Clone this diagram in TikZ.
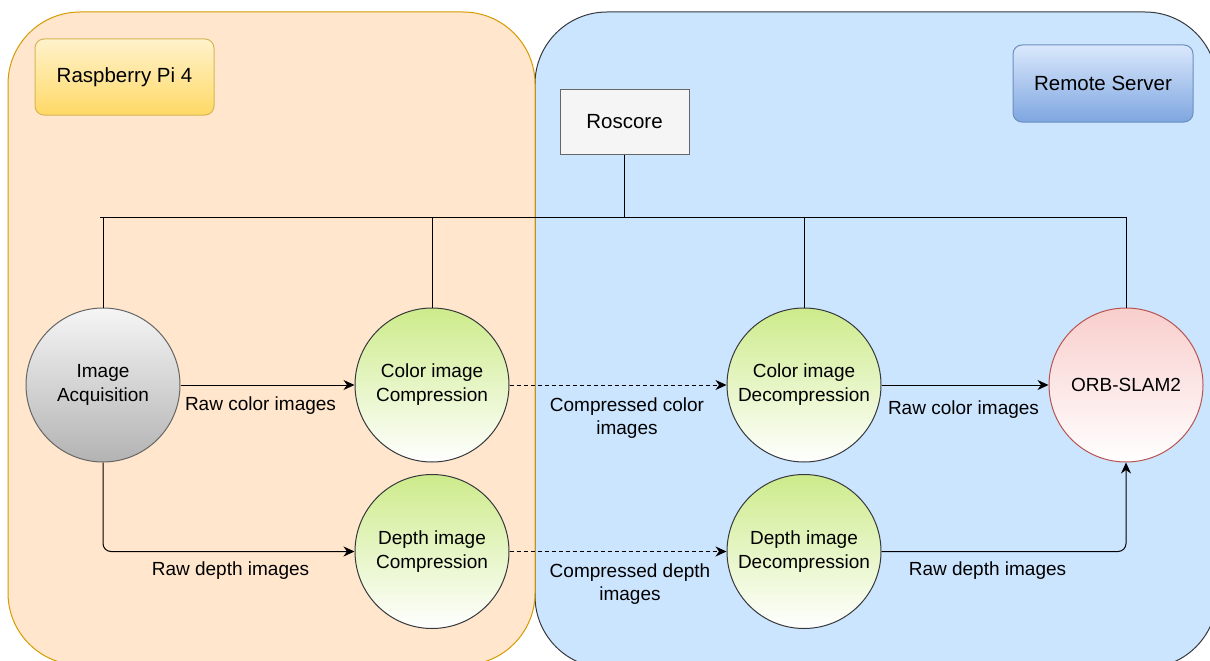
\documentclass[tikz,border=0pt]{standalone}
\usepackage{fontspec}
\setmainfont{Liberation Sans}
\usetikzlibrary{arrows.meta}
\definecolor{piFill}{HTML}{FFE6CC}
\definecolor{piLine}{HTML}{D79B00}
\definecolor{srvFill}{HTML}{CCE5FF}
\definecolor{srvLine}{HTML}{36393D}
\definecolor{tagYTop}{HTML}{FFF2CC}
\definecolor{tagYBot}{HTML}{FFD966}
\definecolor{tagYLine}{HTML}{D6B656}
\definecolor{tagBTop}{HTML}{DAE8FC}
\definecolor{tagBBot}{HTML}{7EA6E0}
\definecolor{tagBLine}{HTML}{6C8EBF}
\definecolor{greyTop}{HTML}{F5F5F5}
\definecolor{greyBot}{HTML}{B3B3B3}
\definecolor{greyLine}{HTML}{666666}
\definecolor{greenTop}{HTML}{CDEB8B}
\definecolor{redTop}{HTML}{F8CECC}
\definecolor{redLine}{HTML}{B85450}
\tikzset{
  zone/.style={rounded corners=72pt, line width=1pt},
  tag/.style={rounded corners=9pt, line width=1pt, minimum width=179pt, minimum height=76pt,
    font=\fontsize{20.5}{24}\selectfont, inner sep=0pt},
  proc/.style={circle, minimum size=154pt, inner sep=0pt, line width=1pt, align=center,
    font=\fontsize{19}{24}\selectfont},
  greenproc/.style={proc, draw=srvLine, top color=greenTop, bottom color=white},
  lbl/.style={align=center, inner sep=0pt, font=\fontsize{19}{23}\selectfont},
  wire/.style={line width=1pt, black},
  arr/.style={wire, -{Stealth[length=11pt, width=10pt, inset=3.5pt]}},
  darr/.style={arr, dash pattern=on 4pt off 3pt},
}
\begin{document}
\begin{tikzpicture}[x=1pt, y=-1pt]
  \clip (0,0) rectangle (1210,661);
  \fill[white] (0,0) rectangle (1210,661);

  % the two machines
  \draw[zone, fill=srvFill, draw=srvLine] (535,12) rectangle (1217,668);
  \draw[zone, fill=piFill, draw=piLine] (8,12) rectangle (535,665);

  % machine titles
  \node[tag, draw=tagYLine, top color=tagYTop, bottom color=tagYBot] (pi) at (124.5,77) {Raspberry Pi 4};
  \node[tag, draw=tagBLine, top color=tagBTop, bottom color=tagBBot, minimum width=180pt, minimum height=77pt] (srv) at (1103,83.5) {Remote Server};

  % ROS master
  \node[draw=greyLine, fill=greyTop, line width=1pt, minimum width=129pt, minimum height=65pt,
        inner sep=0pt, font=\fontsize{20.5}{24}\selectfont] (ros) at (624.5,121.5) {Roscore};

  % processing nodes
  \node[proc, draw=greyLine, top color=greyTop, bottom color=greyBot] (acq) at (103,385) {Image\\Acquisition};
  \node[greenproc] (ccomp) at (432,385) {Color image\\Compression};
  \node[greenproc] (dcomp) at (432,551.5) {Depth image\\Compression};
  \node[greenproc] (cdec) at (804,385) {Color image\\Decompression};
  \node[greenproc] (ddec) at (804,551.5) {Depth image\\Decompression};
  \node[proc, draw=redLine, top color=redTop, bottom color=white] (orb) at (1126,385) {ORB-SLAM2};

  % ROS bus
  \coordinate (busL) at (100,217);
  \coordinate (busR) at (1126,217);
  \draw[wire] (busL) -- (busR);
  \draw[wire] (ros.south) -- (ros.south |- busL);
  \draw[wire] (acq.north) -- (acq.north |- busL);
  \draw[wire] (ccomp.north) -- (ccomp.north |- busL);
  \draw[wire] (cdec.north) -- (cdec.north |- busL);
  \draw[wire] (orb.north) -- (orb.north |- busL);

  % image streams
  \draw[arr] (acq) -- (ccomp);
  \draw[arr, rounded corners=8pt] (acq.south) |- (dcomp.west);
  \draw[darr] (ccomp) -- (cdec);
  \draw[darr] (dcomp) -- (ddec);
  \draw[arr] (cdec) -- (orb);
  \draw[arr, rounded corners=8pt] (ddec.east) -| (orb.south);

  % stream labels
  \node[lbl] (l1) at (260.5,406) {Raw color images};
  \node[lbl] (l2) at (230.5,571) {Raw depth images};
  \node[lbl] (l3) at (627,418.5) {Compressed color\\images};
  \node[lbl] (l4) at (630,584.5) {Compressed depth\\images};
  \node[lbl] (l5) at (963.5,410) {Raw color images};
  \node[lbl] (l6) at (987.5,571) {Raw depth images};
\end{tikzpicture}
\end{document}
